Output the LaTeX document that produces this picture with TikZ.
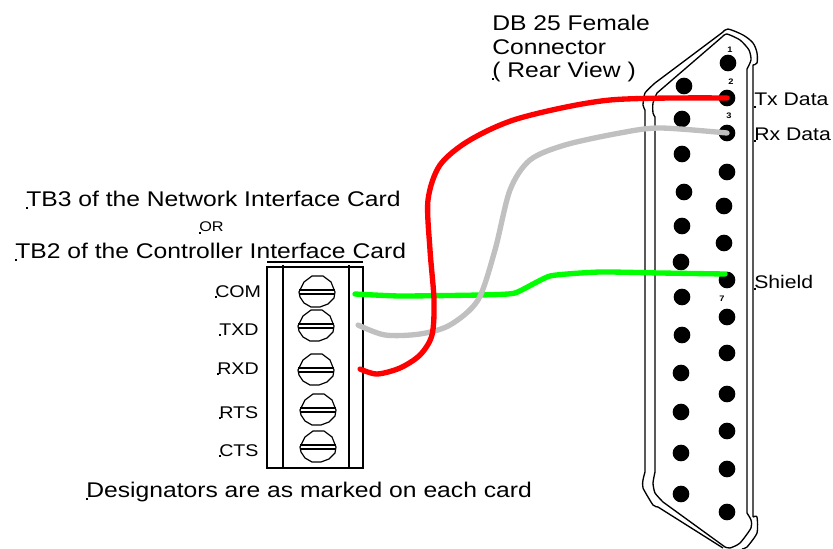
\documentclass[tikz,border=0pt]{standalone}
\usepackage{fontspec}
\setmainfont[FakeStretch=1.16]{Liberation Sans}
\begin{document}
\begin{tikzpicture}[x=0.75pt,y=-0.75pt,
 lab/.style={anchor=base west,inner sep=0pt,font=\fontsize{15.95}{18}\selectfont},
 lbl/.style={anchor=base west,inner sep=0pt,font=\fontsize{12.7}{14}\selectfont},
 lbr/.style={anchor=base west,inner sep=0pt,font=\fontsize{13.7}{15}\selectfont},
 tiny/.style={anchor=center,inner sep=0pt,font=\fontsize{6}{6}\selectfont\bfseries},
 pin/.style={circle,fill=black,minimum width=12.5pt,minimum height=12.5pt,inner sep=0pt,draw=none},
 shell/.style={draw=black,line width=1pt,line join=round},
 wire/.style={line width=4pt,line cap=round,line join=round},
 box/.style={draw=black,line width=1.1pt},
 speck/.style={fill=black,minimum size=1.6pt,inner sep=0pt,draw=none}]
\useasboundingbox (0,0) rectangle (833,549);
% shell
\draw[shell] plot[smooth,tension=0.35] coordinates {(645,472)(643,480)(643,488)(653,505)(658,507)} -- (723,548)
  (645,472) -- (645,110) plot[smooth,tension=0.35] coordinates {(645,110)(643,105)(645,93)(655,83)} -- (723,32)
  plot[smooth,tension=0.5] coordinates {(723,32)(728,29)(743,35)(753,43)(757,53)(757,63)(753,65)} -- (753,517)
  plot[smooth,tension=0.4] coordinates {(753,517)(757,517)(757,533)(747,547)(742,549)};
\draw[shell] plot[smooth,tension=0.35] coordinates {(655,472)(653,483)(655,493)(663,502)} -- (725,547)
  plot[smooth,tension=0.4] coordinates {(725,547)(730,548)(740,543)(751,528)(751,520)(747,513)} -- (747,69)
  plot[smooth,tension=0.4] coordinates {(747,69)(751,60)(749,50)(740,40)(727,34)(722,37)} -- (657,93)
  plot[smooth,tension=0.4] coordinates {(657,93)(653,103)(653,113)(655,117)} -- (655,472);
% pins
\foreach \n/\x/\y in {a/728/63,b/684/86,c/727/98,d/682/119,e/727/133,f/682/154,g/727/172,h/684/192,i/724/206,j/682/226,k/724/243,l/681/262,m/727/280,n/682/297,o/727/317,p/682/335,q/727/353,r/681/373,s/727/394,t/681/412,u/727/431,v/681/453,w/727/469,x/681/494,y/727/512}
  \node[pin] (pin\n) at (\x,\y) {};
\node[tiny] (n1) at (730,50) {1};
\node[tiny] (n2) at (731,82) {2};
\node[tiny] (n3) at (729,116) {3};
\node[tiny] (n7) at (722,299) {7};
% terminal block
\draw[box] (267,267) rectangle (363,468);
\draw[box] (267,262) -- (363,262);
\draw[box] (283,265) -- (283,468);
\draw[box] (349,265) -- (349,468);
\foreach \n/\x/\y in {sa/317/292,sb/316/326,sc/316/370,sd/318/410,se/318/447}{
 \coordinate (\n) at (\x,\y);
 \draw[line width=0.9pt,line join=round] (\x-18,\y) -- (\x-13,\y-10) -- (\x-5,\y-16) -- (\x+6,\y-16) -- (\x+14,\y-10) -- (\x+18,\y) -- (\x+17,\y+6) -- (\x+11,\y+12) -- (\x+3,\y+15) -- (\x-6,\y+15) -- (\x-13,\y+11) -- (\x-17,\y+5) -- cycle;
 \draw[line width=0.9pt] (\x-18,\y-2) -- (\x+18,\y-2) (\x-18,\y+2) -- (\x+18,\y+2);
}
% wires
\coordinate (redS) at (360,369);
\coordinate (grayS) at (358,325);
\coordinate (greenS) at (355,294);
\draw[wire,color={rgb,255:red,0;green,255;blue,0}] plot[smooth,tension=0.3] coordinates {(greenS)(400,296)(480,295)(515,293)(550,276)(600,272)(660,273)(725,274)};
\draw[wire,color={rgb,255:red,192;green,192;blue,192}] plot[smooth,tension=0.5] coordinates {(grayS)(385,335)(420,334)(450,325)(478,300)(495,250)(510,190)(530,160)(565,145)(620,133)(660,128)(pine)};
\draw[wire,color={rgb,255:red,255;green,0;blue,0}] plot[smooth,tension=0.5] coordinates {(redS)(377,374)(400,368)(420,355)(432,335)(434,300)(430,250)(428,200)(440,165)(470,140)(520,118)(610,100)(pinc)};
% text
\node[lab] (t1) at (492,31) {DB 25 Female};
\node[lab] (t2) at (492,55) {Connector};
\node[lab] (t3) at (492,78) {( Rear View )};
\node[lab] (t4) at (26,207) {TB3 of the Network Interface Card};
\node[anchor=base west,inner sep=0pt,font=\fontsize{10.5}{11}\selectfont] (t5) at (199,232) {OR};
\node[lab] (t6) at (15,259) {TB2 of the Controller Interface Card};
\node[lab] (t7) at (86,498) {Designators are as marked on each card};
\node[lbl] (c1) at (215,298) {COM};
\node[lbl] (c2) at (219,335) {TXD};
\node[lbl] (c3) at (217,374) {RXD};
\node[lbl] (c4) at (219,418) {RTS};
\node[lbl] (c5) at (219,456) {CTS};
\node[lbr] (d1) at (754,106) {Tx Data};
\node[lbr] (d2) at (754,141) {Rx Data};
\node[lbr] (d3) at (754,289) {Shield};
\foreach \n/\x/\y in {s1/216/297,s2/220/335,s3/218/374,s4/220/418,s5/220/456,s6/87/499,s7/27/208,s8/16/260,s9/493/79,s10/755/107,s11/755/141,s12/755/289,s13/200/233}
  \node[speck] (\n) at (\x,\y) {};
\end{tikzpicture}
\end{document}
